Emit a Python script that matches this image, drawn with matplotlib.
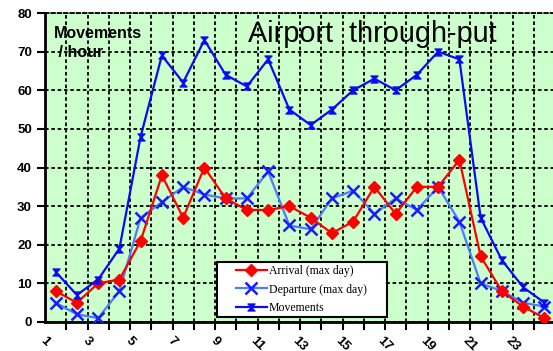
import matplotlib.pyplot as plt
from matplotlib.path import Path
from matplotlib.patches import Rectangle

hours = list(range(1, 25))
arrival = [8, 5, 10, 11, 21, 38, 27, 40, 32, 29, 29, 30,
           27, 23, 26, 35, 28, 35, 35, 42, 17, 8, 4, 1]
departure = [5, 2, 1, 8, 27, 31, 35, 33, 32, 32, 39, 25,
             24, 32, 34, 28, 32, 29, 35, 26, 10, 8, 5, 4]
movements = [13, 7, 11, 19, 48, 69, 62, 73, 64, 61, 68, 55,
             51, 55, 60, 63, 60, 64, 70, 68, 27, 16, 9, 5]
tick_labels = [str(h) for h in hours[::2]]

W, H = 553, 351

# hourglass-like marker for the movements line
hourglass = Path([(-1, 1), (1, 1), (-1, -1), (1, -1), (-1, 1)],
                 [Path.MOVETO, Path.LINETO, Path.LINETO, Path.LINETO, Path.CLOSEPOLY])

plt.rcParams['font.family'] = ['Liberation Sans', 'DejaVu Sans']

fig = plt.figure(figsize=(W / 100, H / 100), dpi=100)
ax = fig.add_axes([45 / W, (H - 322) / H, 510 / W, 309 / H])
ax.set_facecolor('#CCFFCC')

ax.plot(hours, arrival, color='#FF0000', lw=1.6, marker='D', ms=6,
        label='Arrival (max day)', zorder=4)
ax.plot(hours, departure, color='#4C7CFF', lw=1.6, marker='x', ms=8, mew=1.8,
        mec='#1A1AFF', label='Departure (max day)', zorder=3)
ax.plot(hours, movements, color='#0A0AF5', lw=1.6, marker=hourglass, ms=5,
        label='Movements', zorder=5)

ax.set_xlim(0.5, 24.5)
ax.set_ylim(0, 80)
ax.set_yticks(range(0, 81, 10))
ax.set_xticks([h + 0.5 for h in hours[:-1]])
ax.set_xticklabels([])
ax.tick_params(axis='x', length=6, width=1.5, direction='out')
ax.tick_params(axis='y', length=6, width=1.5, direction='out', labelsize=9.5)
for lab in ax.get_yticklabels():
    lab.set_fontweight('bold')

ax.grid(True, color='black', ls=(0, (2, 1.5)), lw=1.3)
ax.set_axisbelow(True)
for side in ['left', 'bottom']:
    ax.spines[side].set_linewidth(2)
ax.spines['top'].set_linestyle((0, (2, 1.5)))
ax.spines['top'].set_linewidth(1.3)
ax.spines['right'].set_visible(False)

# rotated hour labels, every second hour
for h, t in zip(hours[::2], tick_labels):
    ax.text(h - 0.5, -3.2, t, rotation=-45, ha='center', va='top',
            fontsize=9.5, fontweight='bold', clip_on=False)

fig.text(248 / W, 1 - 34 / H, 'Airport  through-put',
         fontsize=20.8, va='center', ha='left')
fig.text(54 / W, 1 - 26 / H, 'Movements\n / hour',
         fontsize=11.5, fontweight='bold', va='top', ha='left', linespacing=1.3)

# legend box drawn separately so the entries sit inset from the frame
fig.patches.append(Rectangle((217 / W, 1 - 317 / H), 170 / W, 55 / H,
                             transform=fig.transFigure, facecolor='white',
                             edgecolor='black', lw=1.5, zorder=6))
leg = fig.legend(loc='center left', bbox_to_anchor=(236 / W, 1 - 289.5 / H),
                 prop={'family': 'Liberation Serif', 'size': 8.5},
                 frameon=False, handlelength=2.6, handletextpad=0.2,
                 borderpad=0, labelspacing=0.55, borderaxespad=0)
leg.set_zorder(7)

fig.savefig('out.png', dpi=100)
